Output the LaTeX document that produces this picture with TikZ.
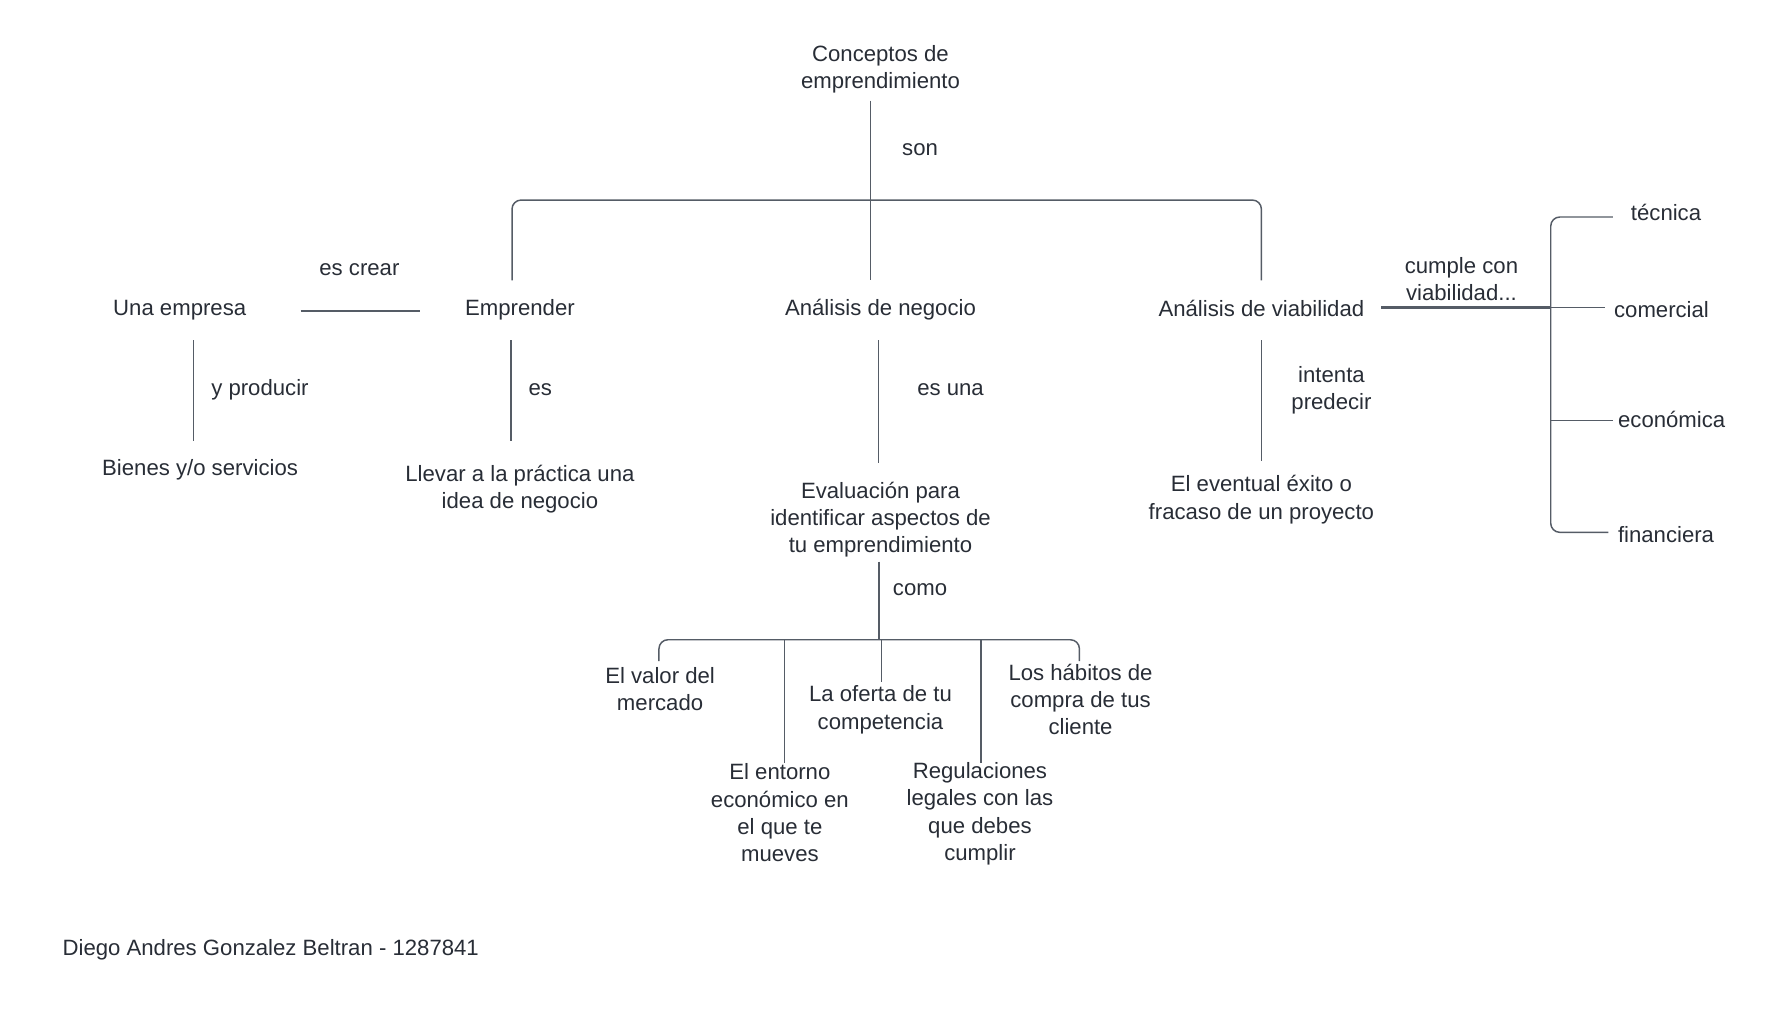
\documentclass[tikz,border=0pt]{standalone}
\usepackage{fontspec}
\setmainfont{Liberation Sans}
\definecolor{txtc}{RGB}{40,45,54}
\definecolor{linec}{RGB}{85,92,102}
\begin{document}
\begin{tikzpicture}[x=0.5pt,y=-0.5pt,
  lbl/.style={inner sep=0pt,align=center,text=txtc,yshift=-1pt,font=\fontsize{9.8}{12}\selectfont},
  conn/.style={draw=linec,line width=0.65pt},
  bar/.style={conn,rounded corners=4pt}]
\useasboundingbox (0,0) rectangle (1566,903);
% text nodes
\node[lbl] (root) at (779,59) {Conceptos de\\emprendimiento};
\node[lbl] (son) at (814,130) {son};
\node[lbl] (empresa) at (159,272) {Una empresa};
\node[lbl] (emprender) at (460,272) {Emprender};
\node[lbl] (negocio) at (779,272) {Análisis de negocio};
\node[lbl] (viab) at (1116,271) {Análisis de viabilidad};
\node[lbl] (escrear) at (318,237) {es crear};
\node[lbl] (yprod) at (230,343) {y producir};
\node[lbl] (bienes) at (177,414) {Bienes y/o servicios};
\node[lbl] (es) at (478,343) {es};
\node[lbl] (llevar) at (460,431) {Llevar a la práctica una\\idea de negocio};
\node[lbl] (esuna) at (841,343) {es una};
\node[lbl] (eval) at (779,458) {Evaluación para\\identificar aspectos de\\tu emprendimiento};
\node[lbl] (como) at (814,520) {como};
\node[lbl] (valor) at (584,608) {El valor del\\mercado};
\node[lbl] (oferta) at (779,626) {La oferta de tu\\competencia};
\node[lbl] (habitos) at (956,617) {Los hábitos de\\compra de tus\\cliente};
\node[lbl] (entorno) at (690,717) {El entorno\\económico en\\el que te\\mueves};
\node[lbl] (regul) at (867,718) {Regulaciones\\legales con las\\que debes\\cumplir};
\node[lbl] (intenta) at (1178,343) {intenta\\predecir};
\node[lbl] (eventual) at (1116,440) {El eventual éxito o\\fracaso de un proyecto};
\node[lbl] (cumple) at (1293,245) {cumple con\\viabilidad...};
\node[lbl] (tecnica) at (1474,186) {técnica};
\node[lbl] (comercial) at (1470,272) {comercial};
\node[lbl] (economica) at (1479,369) {económica};
\node[lbl] (financiera) at (1474,471) {financiera};
\node[lbl,anchor=west] (author) at (55,838) {Diego Andres Gonzalez Beltran - 1287841};
% connector end points
\coordinate (rootS) at (770,89);
\coordinate (hub1) at (770,177);
\coordinate (emprN) at (453,248);
\coordinate (negN) at (770,248);
\coordinate (viabN) at (1116,248);
\coordinate (empE) at (266,275);
\coordinate (emprW) at (372,275);
\coordinate (empS) at (171,301);
\coordinate (bienN) at (171,390);
\coordinate (emprS) at (452,301);
\coordinate (llevN) at (452,390);
\coordinate (negS) at (777,301);
\coordinate (evalN) at (777,410);
\coordinate (viabS) at (1116,301);
\coordinate (eventN) at (1116,408);
\coordinate (evalS) at (778,497);
\coordinate (hub2) at (778,566);
\coordinate (valN) at (583,585);
\coordinate (habN) at (955,585);
\coordinate (entN) at (694,675);
\coordinate (ofeN) at (780,603);
\coordinate (regN) at (868,675);
\coordinate (viabE) at (1222,272);
\coordinate (hub3) at (1372,272);
\coordinate (tecW) at (1427,192);
\coordinate (comW) at (1420,272);
\coordinate (ecoW) at (1427,372);
\coordinate (finW) at (1423,471);
% connectors
\draw[conn] (rootS) -- (negN);
\draw[bar] (emprN) -- (emprN |- hub1) -- (viabN |- hub1) -- (viabN);
\draw[conn] (empE) -- (emprW);
\draw[conn] (empS) -- (bienN);
\draw[conn] (emprS) -- (llevN);
\draw[conn] (negS) -- (evalN);
\draw[conn] (viabS) -- (eventN);
\draw[conn,line width=1pt] (evalS) -- (hub2);
\draw[bar] (valN) -- (valN |- hub2) -- (habN |- hub2) -- (habN);
\draw[bar] (hub2 -| entN) -- (entN);
\draw[conn] (hub2 -| ofeN) -- (ofeN);
\draw[bar] (hub2 -| regN) -- (regN);
\draw[conn,line width=1.1pt] (viabE) -- (hub3);
\draw[bar] (tecW) -- (tecW -| hub3) -- (finW -| hub3) -- (finW);
\draw[conn] (hub3) -- (comW);
\draw[bar] (ecoW -| hub3) -- (ecoW);
\end{tikzpicture}
\end{document}
